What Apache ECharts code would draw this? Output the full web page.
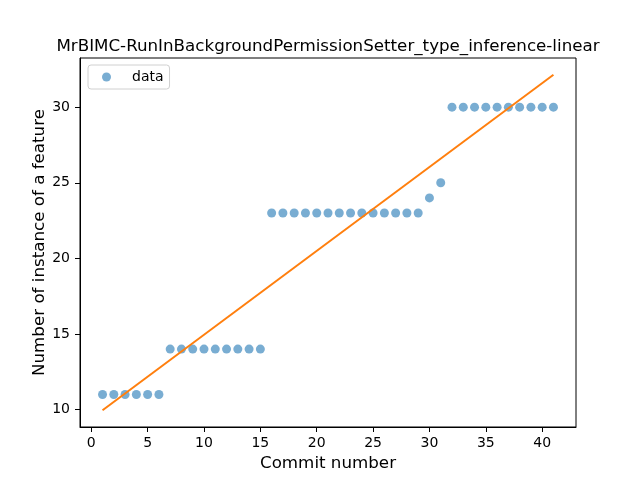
<!DOCTYPE html>
<html>
<head>
	<meta charset="UTF-8">
	<title>MrBIMC-RunInBackgroundPermissionSetter_type_inference-linear</title>
	<script src="https://cdn.jsdelivr.net/npm/echarts@6/dist/echarts.min.js"></script>
	<style>
		html, body { margin: 0; padding: 0; background: #fff; }
		#container { width: 640px; height: 480px; }
	</style>
</head>
<body>
<div id="container"></div>
<script>
	// commit numbers and feature instance counts
	var commits = [1, 2, 3, 4, 5, 6, 7, 8, 9, 10, 11, 12, 13, 14, 15, 16, 17, 18, 19, 20,
		21, 22, 23, 24, 25, 26, 27, 28, 29, 30, 31, 32, 33, 34, 35, 36, 37, 38, 39, 40, 41];
	var counts = [11, 11, 11, 11, 11, 11, 14, 14, 14, 14, 14, 14, 14, 14, 14, 23, 23, 23, 23, 23,
		23, 23, 23, 23, 23, 23, 23, 23, 23, 24, 25, 30, 30, 30, 30, 30, 30, 30, 30, 30, 30];
	// fitted line endpoints (x, y)
	var fitX = [1, 41];
	var fitY = [9.96, 32.14];
	var xTicks = [0, 5, 10, 15, 20, 25, 30, 35, 40];
	var yTicks = [10, 15, 20, 25, 30];

	var scatterData = commits.map(function (c, i) { return [c, counts[i]]; });
	var lineData = fitX.map(function (x, i) { return [x, fitY[i]]; });

	var font = 'DejaVu Sans';
	var dom = document.getElementById('container');
	var myChart = echarts.init(dom, null, { renderer: 'canvas' });

	var option = {
		animation: false,
		title: {
			text: 'MrBIMC-RunInBackgroundPermissionSetter_type_inference-linear',
			left: 323,
			top: 33,
			textAlign: 'center',
			textStyle: { fontFamily: font, fontSize: 16.7, fontWeight: 'normal', color: '#000' }
		},
		legend: {
			data: ['data'],
			left: 88,
			top: 65,
			orient: 'vertical',
			padding: [5, 6, 5, 14],
			itemWidth: 9,
			itemHeight: 9,
			icon: 'circle',
			borderColor: '#d0d0d0',
			borderWidth: 1,
			borderRadius: 3,
			backgroundColor: 'rgba(255,255,255,0.8)',
			textStyle: { fontFamily: font, fontSize: 14, color: '#000', padding: [0, 0, 0, 16] }
		},
		grid: {
			left: 80,
			right: 64,
			top: 58,
			bottom: 53,
			show: true,
			borderColor: '#000',
			borderWidth: 1,
			backgroundColor: '#fff'
		},
		xAxis: {
			type: 'value',
			min: -1,
			max: 43,
			name: 'Commit number',
			nameLocation: 'middle',
			nameGap: 28,
			nameMoveOverlap: false,
			nameTextStyle: { fontFamily: font, fontSize: 16.7, color: '#000' },
			axisLine: { show: true, onZero: false, lineStyle: { color: '#000', width: 1 } },
			axisTick: { show: true, length: 5, customValues: xTicks, lineStyle: { color: '#000' } },
			axisLabel: { customValues: xTicks, margin: 9, fontFamily: font, fontSize: 14, color: '#000' },
			splitLine: { show: false }
		},
		yAxis: {
			type: 'value',
			min: 8.85,
			max: 33.25,
			name: 'Number of instance of a feature',
			nameLocation: 'middle',
			nameGap: 32,
			nameMoveOverlap: false,
			nameRotate: 90,
			nameTextStyle: { fontFamily: font, fontSize: 16.7, color: '#000' },
			axisLine: { show: true, onZero: false, lineStyle: { color: '#000', width: 1 } },
			axisTick: { show: true, length: 5, customValues: yTicks, lineStyle: { color: '#000' } },
			axisLabel: { customValues: yTicks, margin: 10, fontFamily: font, fontSize: 14, color: '#000' },
			splitLine: { show: false }
		},
		series: [
			{
				name: 'data',
				type: 'scatter',
				data: scatterData,
				symbol: 'circle',
				symbolSize: 9,
				itemStyle: { color: '#1f77b4', opacity: 0.6 },
				z: 2
			},
			{
				name: 'fit',
				type: 'line',
				data: lineData,
				symbol: 'none',
				lineStyle: { color: '#ff7f0e', width: 2 },
				itemStyle: { color: '#ff7f0e' },
				z: 3
			}
		]
	};

	myChart.setOption(option, true);
</script>
</body>
</html>
